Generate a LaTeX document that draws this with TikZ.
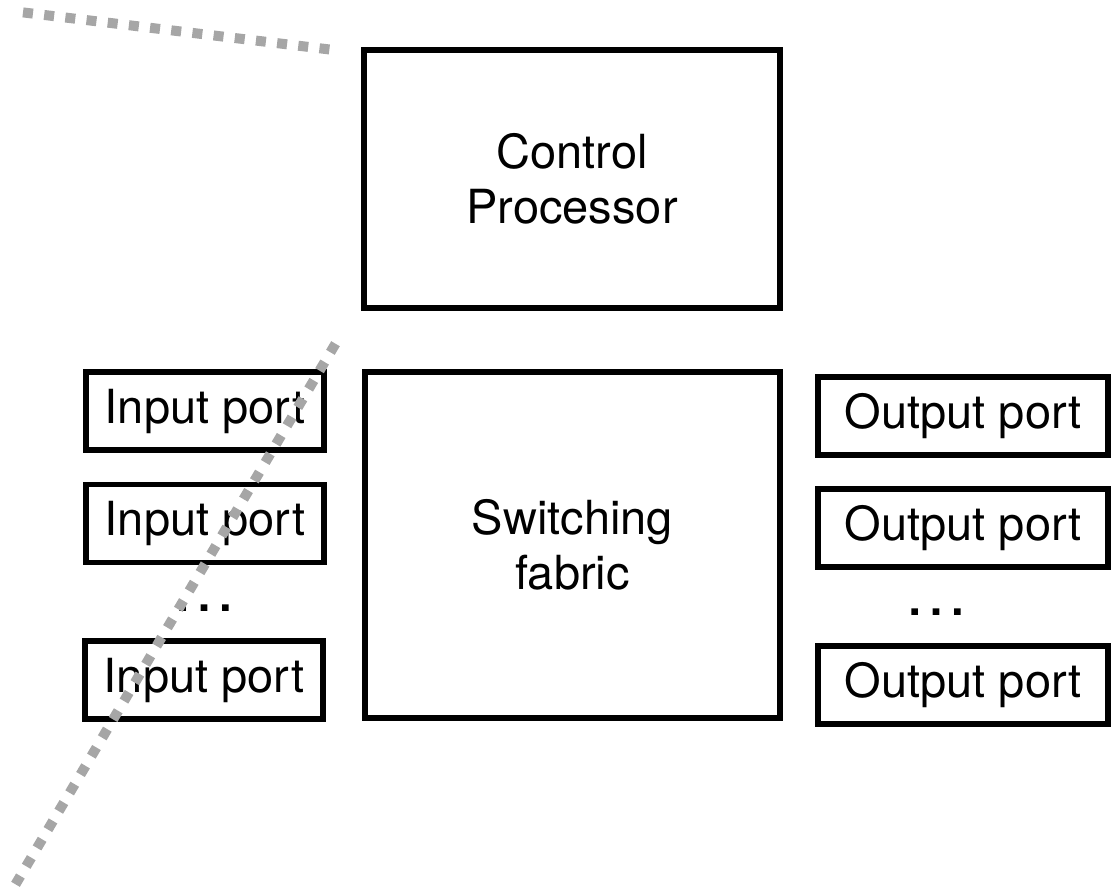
\documentclass[tikz,border=0pt]{standalone}
\usepackage{fontspec}
\setmainfont{TeX Gyre Heros}
\begin{document}
\begin{tikzpicture}[x=1pt,y=-1pt,
  box/.style={draw=black, line width=5.5pt, inner sep=0pt, align=center,
    font=\fontsize{47}{55}\selectfont},
  port/.style={box, minimum height=78pt},
  inport/.style={port, minimum width=238pt},
  outport/.style={port, minimum width=290pt},
  more/.style={anchor=base, inner sep=0pt, font=\fontsize{64}{64}\selectfont},
  callout/.style={draw={rgb,255:red,166;green,166;blue,166}, line width=10pt,
    dash pattern=on 10pt off 11.33pt}]
\useasboundingbox (0,0) rectangle (1119,888);

% central blocks
\node[box, minimum width=416pt, minimum height=258pt] (cp) at (572,179) {Control\\Processor};
\node[box, minimum width=415pt, minimum height=346pt] (sf) at (572.5,545) {Switching\\fabric};

% input side
\node[inport] (in1) at (205,411) {Input port};
\node[inport] (in2) at (205,523.5) {Input port};
\node[inport] (in3) at (204,680) {Input port};
\node[more] (indots) at (204,611) {…};

% output side
\node[outport] (out1) at (963,416) {Output port};
\node[outport] (out2) at (963,528) {Output port};
\node[outport] (out3) at (963,685) {Output port};
\node[more] (outdots) at (936,615) {…};

% zoom callout lines
\coordinate (a1) at (23,12.4);
\coordinate (a2) at (330.5,49.6);
\coordinate (b1) at (335.5,343.7);
\coordinate (b2) at (15.5,884.3);
\draw[callout] (a1) -- (a2);
\draw[callout] (b1) -- (b2);
\end{tikzpicture}
\end{document}
